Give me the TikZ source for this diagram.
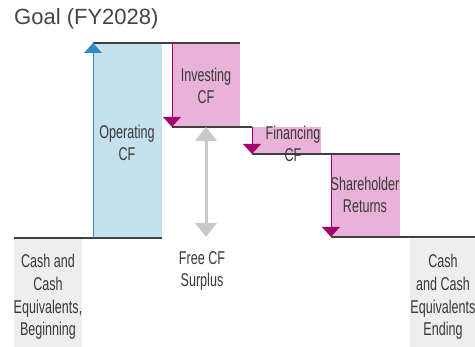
\documentclass[tikz,border=0pt]{standalone}
\usepackage{fontspec}
\setmainfont{Liberation Sans}
\newfontfamily\condfont[FakeStretch=0.68]{Liberation Sans}
\begin{document}
\begin{tikzpicture}[x=1pt,y=-1pt,
  lbl/.style={font=\condfont\fontsize{18.5}{22.7}\selectfont, text=txtgray, align=center, inner sep=0pt},
  stepline/.style={draw=black!75, line width=1.1pt},
  uparrow/.style={draw=opblue, line width=1pt},
  dnarrow/.style={draw=negmag, line width=1pt}]
\definecolor{opblue}{HTML}{2A8DC5}
\definecolor{opfill}{HTML}{C5E1EE}
\definecolor{negmag}{HTML}{A3006F}
\definecolor{negfill}{HTML}{E9B3D9}
\definecolor{cashgray}{HTML}{EEEEEE}
\definecolor{fcfgray}{HTML}{C9C9C9}
\definecolor{txtgray}{HTML}{383838}
\definecolor{titlegray}{HTML}{444444}
\useasboundingbox (0,0) rectangle (475,347);

% title
\node[anchor=base west, inner sep=0pt, font=\fontsize{22}{26}\selectfont, text=titlegray] (title) at (14,25) {Goal (FY2028)};

% cash balances
\fill[cashgray] (14,238) rectangle (82,347);
\fill[cashgray] (410,239) rectangle (475,347);
\node[lbl] (beg) at (48,297) {Cash and\\Cash\\Equivalents,\\Beginning};
\node[lbl] (end) at (443,297) {Cash\\and Cash\\Equivalents\\Ending};

% waterfall bars
\fill[opfill] (93,43) rectangle (162,238);
\fill[negfill] (172,43) rectangle (240,127);
\fill[negfill] (252,127) rectangle (321,154);
\fill[negfill] (331,154) rectangle (400,237);

% levels
\coordinate (l0a) at (14,238);  \coordinate (l0b) at (162,238);
\coordinate (l1a) at (93,43);   \coordinate (l1b) at (240,43);
\coordinate (l2a) at (172,127); \coordinate (l2b) at (252,127);
\coordinate (l3a) at (252,154); \coordinate (l3b) at (400,154);
\coordinate (l4a) at (331,237); \coordinate (l4b) at (475,237);
\draw[stepline] (l0a) -- (l0b);
\draw[stepline] (l1a) -- (l1b);
\draw[stepline] (l2a) -- (l2b);
\draw[stepline] (l3a) -- (l3b);
\draw[stepline] (l4a) -- (l4b);

% operating arrow (up)
\coordinate (opb) at (93,238); \coordinate (opt) at (93,43);
\draw[uparrow] (opb) -- (opt);
\fill[opblue] (opt) -- ++(9,10) -- ++(-18,0) -- cycle;

% outflow arrows (down)
\coordinate (ivt) at (172,43);  \coordinate (ivb) at (172,127);
\coordinate (fit) at (252,127); \coordinate (fib) at (252,154);
\coordinate (sht) at (331,154); \coordinate (shb) at (331,237);
\draw[dnarrow] (ivt) -- (ivb);
\draw[dnarrow] (fit) -- (fib);
\draw[dnarrow] (sht) -- (shb);
\foreach \p in {ivb,fib,shb}
  \fill[negmag] (\p) -- ++(9,-10) -- ++(-18,0) -- cycle;

% free cash flow span
\coordinate (fcft) at (206,127); \coordinate (fcfb) at (206,237);
\draw[fcfgray, line width=3pt] (206,139) -- (206,225);
\fill[fcfgray] (fcft) -- ++(11,14) -- ++(-22,0) -- cycle;
\fill[fcfgray] (fcfb) -- ++(11,-14) -- ++(-22,0) -- cycle;

% labels
\node[lbl] (op) at (127,143) {Operating\\CF};
\node[lbl] (iv) at (206,86) {Investing\\CF};
\node[lbl] (fi) at (293,144) {Financing\\CF};
\node[lbl] (sh) at (365,195) {Shareholder\\Returns};
\node[lbl] (fcf) at (202,271) {Free CF\\Surplus};
\end{tikzpicture}
\end{document}
